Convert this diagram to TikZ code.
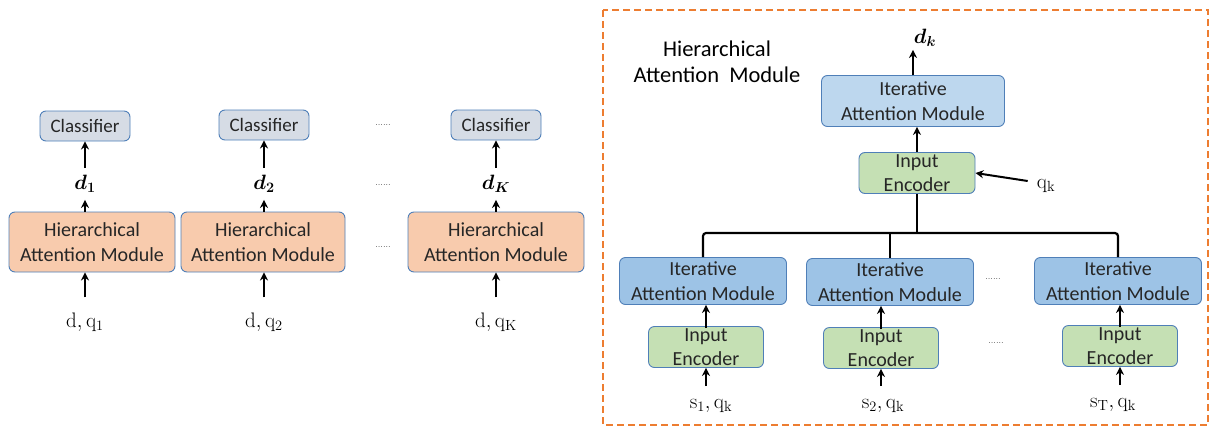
\documentclass[tikz,border=0pt]{standalone}
\usepackage{amsmath,bm}
\usepackage{fontspec}
\setsansfont{Carlito}
\usetikzlibrary{positioning,arrows.meta}

\definecolor{boxline}{HTML}{4F7FB8}
\definecolor{hamfill}{HTML}{F8CBAD}
\definecolor{clsfill}{HTML}{D6DCE5}
\definecolor{iamtop}{HTML}{BDD7EE}
\definecolor{iamfill}{HTML}{9DC3E6}
\definecolor{encfill}{HTML}{C5E0B4}
\definecolor{frame}{HTML}{ED7D31}

\tikzset{
  box/.style={draw=boxline, line width=0.9pt, rounded corners=6pt, align=center,
    inner sep=0pt, text=black!85, font=\sffamily\fontsize{20}{24.5}\selectfont},
  cls/.style={box, fill=clsfill, minimum width=90pt, minimum height=30pt,
    font=\sffamily\fontsize{19}{22}\selectfont},
  ham/.style={box, fill=hamfill, minimum width=166pt, minimum height=60pt},
  iam/.style={box, fill=iamfill, minimum width=167pt, minimum height=47pt},
  enc/.style={box, fill=encfill, minimum width=115pt, minimum height=41pt},
  lbl/.style={inner sep=1pt, font=\fontsize{21}{24}\selectfont},
  dots/.style={inner sep=0pt, font=\fontsize{9}{10}\selectfont},
  arr/.style={->, line width=2pt},
  tree/.style={line width=2.2pt, rounded corners=3pt}
}

\begin{document}
\begin{tikzpicture}[x=1pt, y=-1pt, >={Stealth[length=8pt,width=8pt]}]
  \useasboundingbox (0,0) rectangle (1214,428);

  % left: one module per label
  \node[cls] (cls1) at (85,126) {Classifier};
  \node[cls] (cls2) at (264,125) {Classifier};
  \node[cls] (clsK) at (496,125) {Classifier};

  \node[lbl] (d1) at (85,184) {$\bm{d}_{\bm{1}}$};
  \node[lbl] (d2) at (264,184) {$\bm{d}_{\bm{2}}$};
  \node[lbl] (dK) at (496,184) {$\bm{d}_{\bm{K}}$};

  \node[ham] (ham1) at (92,242) {Hierarchical\\Attention Module};
  \node[ham, minimum width=164pt] (ham2) at (263,242) {Hierarchical\\Attention Module};
  \node[ham, minimum width=176pt] (hamK) at (496,242) {Hierarchical\\Attention Module};

  \node[lbl] (in1) at (85,322) {$\mathrm{d},\mathrm{q}_1$};
  \node[lbl] (in2) at (264,322) {$\mathrm{d},\mathrm{q}_2$};
  \node[lbl] (inK) at (496,322) {$\mathrm{d},\mathrm{q}_\mathrm{K}$};

  \node[dots] (dotc) at (383,125) {......};
  \node[dots] (dotd) at (383,185) {......};
  \node[dots] (doth) at (383,247) {......};

  \foreach \i in {1,2,K} {
    \draw[arr] ([yshift=14pt]in\i.north) -- (in\i |- ham\i.south);
    \draw[arr] (d\i |- ham\i.north) -- ([yshift=-6pt]d\i.south);
    \draw[arr] ([yshift=6pt]d\i.north) -- (cls\i.south);
  }

  % right: inside the module
  \draw[frame, line width=2pt, dash pattern=on 7pt off 4pt] (603,10) rectangle (1208,425);
  \node[align=center, font=\sffamily\fontsize{22.5}{26}\selectfont] (title) at (717,62)
    {Hierarchical\\Attention~~Module};

  \node[lbl] (dk) at (925,38) {$\bm{d}_{\bm{k}}$};
  \node[box, fill=iamtop, minimum width=183pt, minimum height=51pt] (iamt) at (913,101)
    {Iterative\\Attention Module};
  \node[enc, minimum width=116pt] (enct) at (917,173) {Input\\Encoder};
  \node[lbl] (qk) at (1046,186) {$\mathrm{q}_\mathrm{k}$};

  \draw[arr] (iamt.north) -- ([yshift=-2pt]iamt.north |- dk.south);
  \draw[arr] (enct.north) -- (enct.north |- iamt.south);
  \draw[arr] ([xshift=-8pt,yshift=5pt]qk.west) -- (enct.east);

  \node[iam] (iam1) at (703,281) {Iterative\\Attention Module};
  \node[iam] (iam2) at (890,282) {Iterative\\Attention Module};
  \node[iam] (iamT) at (1118,281) {Iterative\\Attention Module};

  \node[enc] (enc1) at (706,347) {Input\\Encoder};
  \node[enc] (enc2) at (881,348) {Input\\Encoder};
  \node[enc] (encT) at (1120,346) {Input\\Encoder};

  \node[lbl] (s1) at (711,406) {$\mathrm{s}_1,\mathrm{q}_\mathrm{k}$};
  \node[lbl] (s2) at (883,406) {$\mathrm{s}_2,\mathrm{q}_\mathrm{k}$};
  \node[lbl] (sT) at (1113,405) {$\mathrm{s}_\mathrm{T},\mathrm{q}_\mathrm{k}$};

  \node[dots] (doti) at (993,279) {......};
  \node[dots] (dote) at (996,343) {......};

  \draw[tree] (enct.south) -- ++(0,40);
  \draw[tree] (iam1.north) -- ++(0,-24) -| (iamT.north);
  \draw[tree] (iam2.north) -- ++(0,-24);

  \foreach \j in {1,2,T} {
    \draw[arr] ([yshift=-2pt]enc\j.north) -- (enc\j.north |- iam\j.south);
    \draw[arr] ([yshift=12pt]s\j.north -| enc\j) -- (enc\j.south);
  }
\end{tikzpicture}
\end{document}
